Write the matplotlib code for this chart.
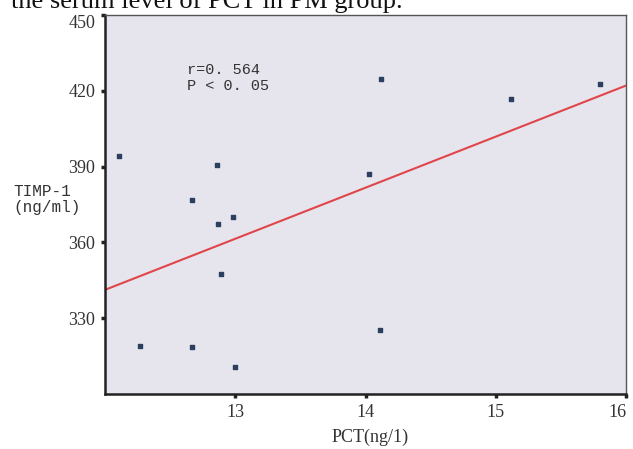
import numpy as np
import matplotlib
matplotlib.use('Agg')
import matplotlib.pyplot as plt

# PCT (ng/l) vs TIMP-1 (ng/ml)
pct = [12.11, 12.86, 12.67, 12.98, 12.87, 14.12, 15.12, 15.80, 14.03,
       12.89, 12.27, 12.67, 13.00, 14.11]
timp1 = [394.0, 390.8, 376.9, 370.0, 367.4, 424.6, 416.9, 422.5, 387.0,
         347.5, 319.1, 318.6, 310.5, 325.5]
x_ticks = [13, 14, 15, 16]
y_ticks = [330, 360, 390, 420, 450]
stats_text = "r=0. 564\nP < 0. 05"

serif = ['Liberation Serif', 'DejaVu Serif']
mono = ['Liberation Mono', 'DejaVu Sans Mono']

fig = plt.figure(figsize=(6.33, 4.49), dpi=100)
fig.patch.set_facecolor('white')
ax = fig.add_axes([0.1659, 0.1225, 0.8231, 0.8441])
ax.set_facecolor('#e6e5ee')

# regression line over the full x range
slope, intercept = np.polyfit(pct, timp1, 1)
xs = np.array([12, 16])
ax.plot(xs, slope * xs + intercept, color='#e0454a', lw=1.5, zorder=2)

ax.scatter(pct, timp1, marker='s', s=9, color='#2c3f5e', zorder=3)

ax.set_xlim(12, 16)
ax.set_ylim(300, 450)
ax.set_xticks(x_ticks)
ax.set_yticks(y_ticks)
ax.tick_params(direction='out', length=3, width=2.5, color='#222222',
               labelsize=13, pad=4, labelcolor='#333333')
for lbl in ax.get_xticklabels() + ax.get_yticklabels():
    lbl.set_family(serif)
# edge labels: keep "16" inside, drop "450" below the caption
ax.get_xticklabels()[-1].set_horizontalalignment('right')
ax.get_yticklabels()[-1].set_verticalalignment('top')

for side in ['left', 'bottom']:
    ax.spines[side].set_linewidth(1.8)
    ax.spines[side].set_color('#222222')
for side in ['top', 'right']:
    ax.spines[side].set_linewidth(1.0)
    ax.spines[side].set_color('#555555')

ax.text(12.63, 431, stats_text, family=mono, fontsize=11, color='#333333',
        va='top', ha='left', linespacing=1.15)

fig.text(0.021, 0.555, "TIMP-1\n(ng/ml)", family=mono, fontsize=11.5,
         color='#333333', va='center', ha='left', linespacing=1.1)
fig.text(0.585, 0.027, "PCT(ng/1)", family=serif, fontsize=13,
         color='#333333', va='center', ha='center')

# caption cut off at the top edge of the crop
fig.text(0.017, 0.983, "the serum level of PCT in PM group.", family=serif,
         fontsize=19, color='#111111', va='baseline', ha='left')

fig.savefig('out.png', dpi=100)
